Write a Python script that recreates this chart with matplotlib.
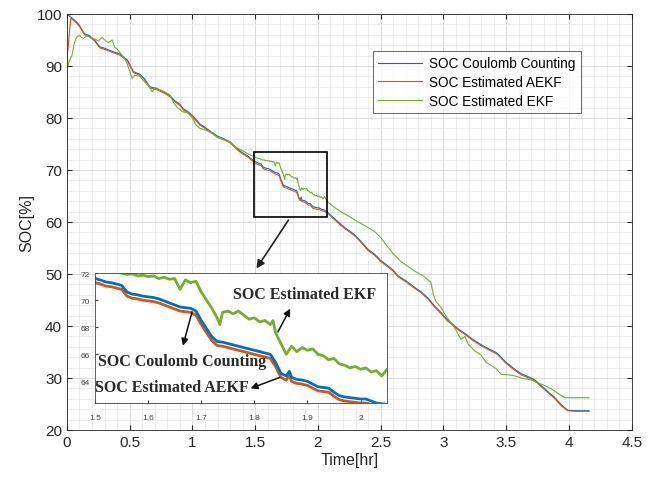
import matplotlib.pyplot as plt
import numpy as np
from matplotlib.patches import Rectangle
from matplotlib.ticker import MultipleLocator, FormatStrFormatter

# ---- data ----
t_cc = [0.00, 0.03, 0.07, 0.10, 0.12, 0.14, 0.18, 0.22, 0.26, 0.30, 0.36, 0.42, 0.48, 0.50,
        0.53, 0.58, 0.62, 0.66, 0.72, 0.78, 0.82, 0.86, 0.90, 0.93, 0.97, 1.00, 1.04, 1.06,
        1.10, 1.15, 1.20, 1.25, 1.30, 1.33, 1.36, 1.40, 1.44, 1.47,
        1.50, 1.51, 1.52, 1.53, 1.54, 1.55, 1.56, 1.57, 1.58, 1.59, 1.60, 1.61, 1.62, 1.63,
        1.64, 1.65, 1.66, 1.67, 1.68, 1.69, 1.70, 1.71, 1.72, 1.73, 1.74, 1.75, 1.76, 1.77,
        1.78, 1.79, 1.80, 1.81, 1.82, 1.83, 1.84, 1.85, 1.86, 1.866, 1.87, 1.88, 1.89, 1.90,
        1.91, 1.92, 1.93, 1.94, 1.95, 1.96, 1.97, 1.98, 1.99, 2.00, 2.01, 2.02, 2.03, 2.04, 2.05,
        2.08, 2.12, 2.18, 2.22, 2.29, 2.33, 2.40, 2.45, 2.50, 2.55, 2.60, 2.64, 2.70, 2.76,
        2.82, 2.88, 2.93, 2.98, 3.03, 3.08, 3.12, 3.18, 3.24, 3.30, 3.36, 3.42, 3.46, 3.49,
        3.55, 3.62, 3.68, 3.73, 3.78, 3.84, 3.88, 3.94, 3.99, 4.05, 4.16]

soc_cc = [100.0, 99.4, 98.6, 97.8, 96.9, 96.2, 95.8, 95.0, 93.7, 93.4, 92.8, 92.3, 91.2, 90.3,
          88.9, 88.4, 87.5, 86.0, 85.6, 84.9, 84.3, 83.3, 82.6, 81.7, 81.1, 80.4, 79.4, 78.8,
          78.2, 77.3, 76.5, 76.0, 75.4, 74.7, 74.0, 73.3, 72.7, 72.1,
          71.6, 71.5, 71.35, 71.3, 71.2, 71.1, 70.6, 70.45, 70.4, 70.3, 70.25, 70.2, 70.1, 69.95,
          69.8, 69.65, 69.5, 69.45, 69.4, 69.2, 68.5, 67.9, 67.3, 66.95, 66.9, 66.8, 66.7, 66.6,
          66.5, 66.4, 66.3, 66.2, 66.1, 66.0, 65.4, 64.6, 64.4, 64.75, 64.3, 64.15, 64.1, 64.0,
          63.8, 63.6, 63.55, 63.5, 63.2, 62.95, 62.85, 62.8, 62.75, 62.7, 62.7, 62.55, 62.4, 62.35, 62.3,
          61.8, 60.9, 59.6, 58.8, 57.6, 56.6, 54.7, 53.8, 52.6, 51.7, 50.7, 49.6, 48.7, 47.6,
          46.6, 45.3, 43.8, 42.6, 41.2, 40.2, 39.4, 38.4, 37.3, 36.4, 35.6, 34.9, 34.0, 33.2,
          32.0, 30.8, 30.2, 29.6, 28.5, 27.2, 26.4, 24.8, 23.8, 23.7, 23.7]

soc_aekf = [91.0, 99.2, 98.4, 97.6, 96.8, 96.0, 95.6, 94.8, 93.5, 93.2, 92.6, 92.1, 91.0, 90.1,
            88.7, 88.2, 87.3, 85.8, 85.4, 84.7, 84.1, 83.1, 82.4, 81.5, 80.9, 80.2, 79.2, 78.6,
            78.0, 77.1, 76.3, 75.8, 75.2, 74.5, 73.8, 73.1, 72.5, 71.9,
            71.3, 71.2, 71.05, 71.0, 70.9, 70.8, 70.3, 70.15, 70.1, 70.0, 69.95, 69.9, 69.8, 69.65,
            69.5, 69.35, 69.2, 69.15, 69.1, 68.9, 68.2, 67.6, 67.0, 66.65, 66.6, 66.5, 66.4, 66.3,
            66.2, 66.1, 66.0, 65.9, 65.8, 65.7, 65.1, 64.3, 64.1, 64.45, 64.0, 63.85, 63.8, 63.7,
            63.5, 63.3, 63.25, 63.2, 62.9, 62.65, 62.55, 62.5, 62.45, 62.4, 62.4, 62.3, 62.2, 62.1, 62.05,
            61.6, 60.7, 59.4, 58.6, 57.4, 56.4, 54.5, 53.6, 52.4, 51.5, 50.5, 49.4, 48.5, 47.4,
            46.4, 45.1, 43.6, 42.4, 41.0, 40.0, 39.2, 38.2, 37.1, 36.2, 35.4, 34.7, 33.8, 33.0,
            31.8, 30.6, 30.0, 29.4, 28.3, 27.0, 26.2, 24.6, 23.7, 23.6, 23.6]

t_ekf = [0.00, 0.02, 0.04, 0.06, 0.08, 0.10, 0.13, 0.16, 0.19, 0.22, 0.25, 0.28, 0.30, 0.33,
         0.36, 0.38, 0.40, 0.43, 0.46, 0.48, 0.50, 0.52, 0.54, 0.58, 0.62, 0.65, 0.68, 0.70,
         0.74, 0.78, 0.82, 0.85, 0.88, 0.92, 0.96, 1.00, 1.03, 1.06, 1.10, 1.15, 1.20, 1.25,
         1.30, 1.35, 1.40, 1.45,
         1.50, 1.51, 1.52, 1.53, 1.54, 1.55, 1.56, 1.57, 1.58, 1.59, 1.60, 1.61, 1.62, 1.63,
         1.64, 1.65, 1.66, 1.67, 1.68, 1.69, 1.70, 1.71, 1.72, 1.73, 1.735, 1.74, 1.75, 1.76,
         1.77, 1.78, 1.79, 1.80, 1.81, 1.82, 1.83, 1.835, 1.84, 1.85, 1.86, 1.87, 1.88, 1.89,
         1.90, 1.91, 1.92, 1.93, 1.94, 1.95, 1.96, 1.97, 1.98, 1.99, 2.00, 2.01, 2.02, 2.03,
         2.04, 2.05,
         2.08, 2.12, 2.18, 2.26, 2.32, 2.38, 2.45, 2.50, 2.55, 2.60, 2.66, 2.72, 2.78, 2.84,
         2.90, 2.92, 2.94, 2.98, 3.02, 3.06, 3.10, 3.14, 3.17, 3.20, 3.25, 3.30, 3.34, 3.38,
         3.42, 3.46, 3.52, 3.57, 3.62, 3.70, 3.76, 3.82, 3.86, 3.92, 3.97, 4.05, 4.16]

soc_ekf = [89.5, 91.0, 92.0, 94.5, 95.6, 95.8, 95.3, 95.8, 95.4, 95.2, 94.8, 95.5, 95.0, 94.5,
           95.0, 93.6, 93.3, 92.3, 91.5, 90.4, 89.0, 87.6, 88.2, 88.0, 86.9, 86.2, 85.0, 85.9,
           85.4, 85.0, 84.4, 82.9, 82.0, 81.2, 81.0, 80.0, 78.6, 78.0, 77.7, 77.2, 76.3, 75.9,
           75.3, 74.3, 73.7, 73.0,
           72.4, 72.3, 72.2, 72.25, 72.1, 72.0, 71.9, 71.95, 71.8, 71.85, 71.75, 71.8, 71.6, 71.7,
           71.55, 71.6, 70.8, 71.5, 71.3, 71.4, 70.6, 70.0, 69.4, 68.7, 68.2, 69.1, 69.2, 69.0,
           69.2, 68.9, 68.6, 68.7, 68.4, 68.5, 68.2, 68.5, 67.6, 66.8, 66.0, 66.6, 66.2, 66.5,
           66.3, 66.4, 66.0, 65.9, 65.6, 65.7, 65.3, 65.2, 65.0, 65.1, 64.9, 65.0, 64.7, 64.8,
           64.4, 64.9,
           63.8, 63.0, 62.0, 60.9, 60.0, 59.2, 58.2, 57.0, 55.4, 53.9, 52.4, 51.4, 50.4, 49.6,
           48.4, 46.0, 44.7, 43.6, 41.9, 40.6, 39.2, 37.4, 38.0, 36.4, 35.2, 34.4, 33.0, 32.4,
           31.8, 30.7, 30.6, 30.4, 30.0, 29.6, 29.0, 28.4, 27.9, 26.9, 26.2, 26.2, 26.2]

legend_labels = ["SOC Coulomb Counting", "SOC Estimated AEKF", "SOC Estimated EKF"]
c_blue, c_red, c_green = "#0072BD", "#D95319", "#77AC30"

plt.rcParams['font.family'] = ['Liberation Sans', 'DejaVu Sans']

fig = plt.figure(figsize=(6.56, 4.81), dpi=100)
ax = fig.add_axes([0.102, 0.104, 0.861, 0.865])

ax.plot(t_cc, soc_cc, color=c_blue, lw=0.8, label=legend_labels[0])
ax.plot(t_cc, soc_aekf, color=c_red, lw=0.8, label=legend_labels[1])
ax.plot(t_ekf, soc_ekf, color=c_green, lw=0.8, label=legend_labels[2])

ax.set_xlim(0, 4.5)
ax.set_ylim(20, 100)
ax.xaxis.set_major_locator(MultipleLocator(0.5))
ax.yaxis.set_major_locator(MultipleLocator(10))
ax.xaxis.set_minor_locator(MultipleLocator(0.1))
ax.yaxis.set_minor_locator(MultipleLocator(2))
ax.xaxis.set_major_formatter(FormatStrFormatter('%g'))
ax.grid(which='major', color='#d6d6d6', lw=0.6)
ax.grid(which='minor', color='#e8e8e8', lw=0.5)
ax.set_axisbelow(True)
ax.tick_params(which='both', direction='in', top=True, right=True, labelsize=11,
               colors='#262626')
ax.tick_params(which='minor', length=0)
for s in ax.spines.values():
    s.set_color('#262626')
    s.set_linewidth(0.6)
ax.set_xlabel("Time[hr]", fontsize=11.5, color='#262626', labelpad=2)
ax.set_ylabel("SOC[%]", fontsize=11.5, color='#262626', labelpad=2)

leg = ax.legend(loc='upper left', bbox_to_anchor=(0.542, 0.911), fontsize=9.8,
                handlelength=3.2, frameon=True, fancybox=False, borderpad=0.4,
                labelspacing=0.35, handletextpad=0.5, borderaxespad=0)
leg.get_frame().set_edgecolor('#262626')
leg.get_frame().set_linewidth(0.6)

# zoom box and arrow
ax.add_patch(Rectangle((1.49, 61.0), 0.58, 12.5, fill=False, ec='black', lw=1.2, zorder=5))
ax.annotate('', xy=(1.498, 50.6), xytext=(1.777, 60.8),
            arrowprops=dict(arrowstyle='-|>', color='#222222', lw=1.2, mutation_scale=12), zorder=5)

# inset
axi = fig.add_axes([0.145, 0.160, 0.445, 0.270])
axi.plot(t_cc, soc_aekf, color=c_red, lw=2.0)
axi.plot(t_cc, soc_cc, color=c_blue, lw=2.0)
axi.plot(t_ekf, soc_ekf, color=c_green, lw=2.0)
axi.set_xlim(1.5, 2.05)
axi.set_ylim(62.4, 72)
axi.set_xticks([1.5, 1.6, 1.7, 1.8, 1.9, 2.0])
axi.set_xticklabels(['1.5', '1.6', '1.7', '1.8', '1.9', '2'])
axi.set_yticks([64, 66, 68, 70, 72])
axi.tick_params(direction='in', labelsize=6, colors='#444444', length=2)
axi.tick_params(axis='x', pad=8)
for s in axi.spines.values():
    s.set_color('#444444')
    s.set_linewidth(0.6)

ann_font = dict(family=['Liberation Serif', 'DejaVu Serif'], fontweight='bold', fontsize=11.5,
                color='#2a2a2a')
arr = dict(arrowstyle='-|>', color='#111111', lw=1.1, mutation_scale=10)
axi.text(1.895, 70.44, "SOC Estimated EKF", ha='center', va='center', **ann_font)
axi.annotate('', xy=(1.870, 69.56), xytext=(1.842, 67.48), arrowprops=arr)
axi.text(1.664, 65.48, "SOC Coulomb Counting", ha='center', va='center', **ann_font)
axi.annotate('', xy=(1.664, 66.44), xytext=(1.684, 69.33), arrowprops=arr)
axi.text(1.644, 63.56, "SOC Estimated AEKF", ha='center', va='center', **ann_font)
axi.annotate('', xy=(1.788, 63.41), xytext=(1.853, 64.37), arrowprops=arr)

fig.savefig("out.png", dpi=100)
